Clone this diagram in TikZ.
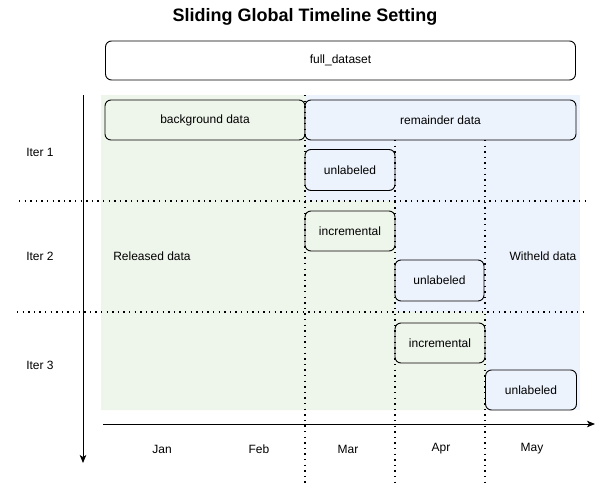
\documentclass[tikz,border=0pt]{standalone}
\usepackage{fontspec}
\setmainfont{Liberation Sans}
\usepackage{tikz}
\usepackage{color}
\usetikzlibrary{arrows}
\usetikzlibrary{arrows.meta}

\definecolor{relgreen}{RGB}{238,245,234}
\definecolor{witblue}{RGB}{237,243,252}

\begin{document}
\begin{tikzpicture}[x=1pt,y=-1pt,
		box/.style={draw, line width=0.9pt, rounded corners=6pt, inner sep=0pt, font=\fontsize{12}{14}\selectfont},
		lbl/.style={font=\fontsize{12}{14}\selectfont},
		sep/.style={line width=1.4pt, dash pattern=on 1.4pt off 4.2pt},
		axis/.style={line width=0.9pt, -{Stealth[length=8pt,width=6.5pt,inset=2pt]}}]
		\useasboundingbox (0,0) rectangle (613,490);

		% released / witheld regions
		\fill[witblue] (101,95) rectangle (580,410);
		\fill[relgreen] (101,95) -- (305,95) -- (305,201) -- (395,201) -- (395,312) -- (485,312) -- (485,410) -- (101,410) -- cycle;

		\node (title) at (305,17) {\fontsize{18}{20}\selectfont\bfseries Sliding Global Timeline Setting};
		\node[box, fill=white, minimum width=470, minimum height=39] (full) at (340.5,60.5) {full\_dataset};
		\node[box, fill=relgreen, minimum width=200, minimum height=40] (bg) at (205,120) {background data};
		\node[box, fill=witblue, minimum width=271, minimum height=40] (rem) at (440.5,120) {remainder data};

		\node[box, fill=witblue, minimum width=90, minimum height=41] (U1) at (350,170) {unlabeled};
		\node[box, fill=relgreen, minimum width=90, minimum height=40] (I1) at (350,231) {incremental};
		\node[box, fill=witblue, minimum width=89, minimum height=41] (U2) at (439.5,280.5) {unlabeled};
		\node[box, fill=relgreen, minimum width=90, minimum height=40] (I2) at (440,343) {incremental};
		\node[box, fill=witblue, minimum width=91, minimum height=40] (U3) at (531,390) {unlabeled};

		\node[lbl] (it1) at (40,152) {Iter 1};
		\node[lbl] (it2) at (40,256) {Iter 2};
		\node[lbl] (it3) at (40,365) {Iter 3};
		\node[lbl] (rel) at (152,256) {Released data};
		\node[lbl] (wit) at (543,256) {Witheld data};

		\node[lbl] (jan) at (162,449) {Jan};
		\node[lbl] (feb) at (259,449) {Feb};
		\node[lbl] (mar) at (348,449) {Mar};
		\node[lbl] (apr) at (441,449) {Apr};
		\node[lbl] (may) at (532,449) {May};

		% iteration separators
		\coordinate (s1a) at (19,201);
		\coordinate (s1b) at (585,201);
		\coordinate (s2a) at (17,312);
		\coordinate (s2b) at (585,312);
		\draw[sep] (s1a) -- (s1b);
		\draw[sep] (s2a) -- (s2b);

		% month separators
		\coordinate (m1a) at (305,95);
		\coordinate (m1b) at (305,484);
		\coordinate (m2a) at (395,140);
		\coordinate (m2b) at (395,484);
		\coordinate (m3a) at (485,140);
		\coordinate (m3b) at (485,484);
		\draw[sep] (m1a) -- (m1b);
		\draw[sep] (m2a) -- (m2b);
		\draw[sep] (m3a) -- (m3b);

		% axes
		\coordinate (ya) at (83,95);
		\coordinate (yb) at (83,463);
		\coordinate (xa) at (103,424);
		\coordinate (xb) at (595,424);
		\draw[axis] (ya) -- (yb);
		\draw[axis] (xa) -- (xb);
	\end{tikzpicture}
\end{document}
